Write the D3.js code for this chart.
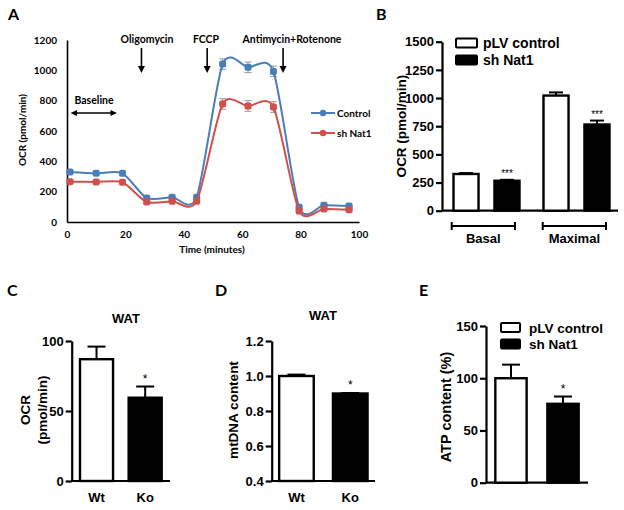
<!DOCTYPE html>
<html><head><meta charset="utf-8">
<script src="https://cdn.jsdelivr.net/npm/d3@7"></script>
<style>body{margin:0;background:#fff}svg{display:block}</style>
</head><body>
<svg id="c" width="624" height="510"></svg>
<script>
// ---------- Panel A data ----------
const timeA = [1, 10, 19, 27.3, 36, 44.4, 53.3, 62, 70.7, 79.5, 88, 96.6];
const controlA = [330, 321, 321, 158, 163, 163, 1041, 1020, 993, 97, 110, 105];
const shNat1A = [266, 264, 262, 132, 136, 136, 778, 765, 758, 72, 86, 81];
const controlErrA = [12, 10, 10, 8, 8, 8, 35, 35, 35, 8, 8, 8];
const shNat1ErrA = [10, 10, 10, 8, 8, 8, 35, 35, 35, 8, 8, 8];
const yTicksA = [0, 200, 400, 600, 800, 1000, 1200];
const xTicksA = [0, 20, 40, 60, 80, 100];
const injections = [
  {label: "Oligomycin", t: 25.5},
  {label: "FCCP", t: 48},
  {label: "Antimycin+Rotenone", t: 74}
];
const seriesA = ["Control", "sh Nat1"];

// ---------- Panel B data ----------
const groupsB = ["Basal", "Maximal"];
const pLVB = [326, 1022];
const shB = [266, 765];
const pLVErrB = [8, 28];
const shErrB = [8, 35];
const sigB = ["***", "***"];
const yTicksB = [0, 250, 500, 750, 1000, 1250, 1500];
const legendB = ["pLV control", "sh Nat1"];

// ---------- Panel C data ----------
const catsC = ["Wt", "Ko"];
const valsC = [87, 59.5];
const errC = [9, 8];
const sigC = ["", "*"];
const yTicksC = [0, 50, 100];

// ---------- Panel D data ----------
const catsD = ["Wt", "Ko"];
const valsD = [1.0, 0.9];
const errD = [0.008, 0.003];
const sigD = ["", "*"];
const yTicksD = [0.4, 0.6, 0.8, 1.0, 1.2];

// ---------- Panel E data ----------
const catsE = ["pLV control", "sh Nat1"];
const valsE = [100, 75.5];
const errE = [13, 7];
const sigE = ["", "*"];
const yTicksE = [0, 50, 100, 150];

const svg = d3.select("#c");
const ARIAL = "'Liberation Sans', Arial, sans-serif";
const CAL = "Lato, 'Open Sans', sans-serif";

function panelLabel(t, x, y) {
  svg.append("text").attr("x", x).attr("y", y).text(t)
    .attr("font-family", CAL).attr("font-weight", "bold").attr("font-size", 16).attr("fill", "#000");
}

// ================= Panel A =================
(function () {
  const x = d3.scaleLinear().domain([0, 100]).range([67, 359]);
  const y = d3.scaleLinear().domain([0, 1200]).range([222, 40]);
  const g = svg.append("g");
  const ax = g.append("g").attr("transform", "translate(0,222)")
    .call(d3.axisBottom(x).tickValues(xTicksA).tickSize(0).tickPadding(9).tickFormat(d3.format("d")));
  const ay = g.append("g").attr("transform", "translate(67,0)")
    .call(d3.axisLeft(y).tickValues(yTicksA).tickSize(0).tickPadding(10).tickFormat(d3.format("d")));
  [ax, ay].forEach(a => {
    a.select(".domain").attr("stroke", "#000").attr("stroke-width", 1.6);
    a.selectAll("text").attr("font-family", CAL).attr("font-weight", "bold").attr("font-size", 10).attr("fill", "#000");
  });
  g.append("text").attr("x", 212).attr("y", 253).attr("text-anchor", "middle").text("Time (minutes)")
    .attr("font-family", CAL).attr("font-weight", "bold").attr("font-size", 10);
  g.append("text").attr("transform", "translate(26,130) rotate(-90)").attr("text-anchor", "middle").text("OCR (pmol/min)")
    .attr("font-family", CAL).attr("font-weight", "bold").attr("font-size", 10);

  const colors = ["#4a7ebb", "#d0504d"];
  const sets = [[controlA, controlErrA], [shNat1A, shNat1ErrA]];
  const line = d3.line().x(d => x(d[0])).y(d => y(d[1])).curve(d3.curveCardinal.tension(0.25));
  sets.forEach(([vals, errs], k) => {
    const pts = timeA.map((t, i) => [t, vals[i], errs[i]]);
    pts.forEach(p => {
      const cx = x(p[0]);
      g.append("line").attr("x1", cx).attr("x2", cx).attr("y1", y(p[1] - p[2])).attr("y2", y(p[1] + p[2]))
        .attr("stroke", "#999").attr("stroke-width", 1);
      [p[1] - p[2], p[1] + p[2]].forEach(v => g.append("line").attr("x1", cx - 3.5).attr("x2", cx + 3.5)
        .attr("y1", y(v)).attr("y2", y(v)).attr("stroke", "#999").attr("stroke-width", 1));
    });
    g.append("path").datum(pts).attr("d", line).attr("fill", "none").attr("stroke", colors[k]).attr("stroke-width", 2);
    g.selectAll(null).data(pts).enter().append("rect")
      .attr("x", d => x(d[0]) - 3.5).attr("y", d => y(d[1]) - 3.5).attr("width", 7).attr("height", 7).attr("rx", 2)
      .attr("fill", colors[k]);
  });
  // legend
  seriesA.forEach((s, k) => {
    const ly = 113 + k * 20;
    g.append("line").attr("x1", 311).attr("x2", 335).attr("y1", ly).attr("y2", ly).attr("stroke", colors[k]).attr("stroke-width", 2);
    g.append("circle").attr("cx", 323).attr("cy", ly).attr("r", 3.2).attr("fill", colors[k]);
    g.append("text").attr("x", 337).attr("y", ly + 3.5).text(s)
      .attr("font-family", CAL).attr("font-weight", "bold").attr("font-size", 10);
  });
  // injections
  const arrowHead = (xx, yy) => g.append("path").attr("d", `M${xx - 3.5},${yy - 7}L${xx + 3.5},${yy - 7}L${xx},${yy}Z`).attr("fill", "#000");
  injections.forEach(inj => {
    const ix = x(inj.t);
    g.append("line").attr("x1", ix).attr("x2", ix).attr("y1", 48).attr("y2", 67).attr("stroke", "#000").attr("stroke-width", 1.6);
    arrowHead(ix, 73);
  });
  const labX = [147, 206, 292];
  injections.forEach((inj, i) => g.append("text").attr("x", labX[i]).attr("y", 43).attr("text-anchor", "middle").text(inj.label)
    .attr("font-family", CAL).attr("font-weight", "bold").attr("font-size", 10.5));
  // baseline
  g.append("text").attr("x", 94).attr("y", 104).attr("text-anchor", "middle").text("Baseline")
    .attr("font-family", CAL).attr("font-weight", "bold").attr("font-size", 10.5);
  g.append("line").attr("x1", 75).attr("x2", 112).attr("y1", 113).attr("y2", 113).attr("stroke", "#000").attr("stroke-width", 1.3);
  g.append("path").attr("d", "M70.5,113L77,110L77,116Z M117,113L110.5,110L110.5,116Z").attr("fill", "#000");
})();

// ================= generic bar helper =================
function drawAxisY(g, y, x0, ticks, fmt) {
  const a = g.append("g").attr("transform", `translate(${x0},0)`)
    .call(d3.axisLeft(y).tickValues(ticks).tickSize(6).tickSizeOuter(0).tickPadding(2).tickFormat(fmt || d3.format("d")));
  a.select(".domain").attr("stroke", "#000").attr("stroke-width", 2.2);
  a.selectAll(".tick line").attr("stroke", "#000").attr("stroke-width", 2.2);
  a.selectAll("text").attr("font-family", ARIAL).attr("font-weight", "bold").attr("font-size", 13).attr("fill", "#000");
  return a;
}
function bar(g, x0, x1, yTop, yBase, fill) {
  g.append("rect").attr("x", x0 + 1).attr("y", yTop).attr("width", x1 - x0 - 2).attr("height", yBase - yTop)
    .attr("fill", fill).attr("stroke", "#000").attr("stroke-width", 2.4);
}
function errBar(g, cx, yTop, yV, w) {
  g.append("line").attr("x1", cx).attr("x2", cx).attr("y1", yTop).attr("y2", yV).attr("stroke", "#000").attr("stroke-width", 2);
  g.append("line").attr("x1", cx - w).attr("x2", cx + w).attr("y1", yTop).attr("y2", yTop).attr("stroke", "#000").attr("stroke-width", 2);
}
function star(g, cx, yy, t, size) {
  if (!t) return;
  g.append("text").attr("x", cx).attr("y", yy).attr("text-anchor", "middle").text(t)
    .attr("font-family", ARIAL).attr("font-size", size || 11).attr("fill", "#000");
}

// ================= Panel B =================
(function () {
  const g = svg.append("g");
  const y = d3.scaleLinear().domain([0, 1500]).range([210.7, 41.7]);
  drawAxisY(g, y, 442, yTicksB);
  g.append("line").attr("x1", 442).attr("x2", 618).attr("y1", 210.7).attr("y2", 210.7).attr("stroke", "#000").attr("stroke-width", 2.2);
  groupsB.forEach((grp, i) => {
    const base = [452.5, 542.5][i];
    const xx = d3.scaleBand().domain(legendB).range([base, base + 68]).paddingInner(0.34);
    [[pLVB, pLVErrB, "#fff"], [shB, shErrB, "#000"]].forEach(([vals, errs, fill], k) => {
      const x0 = xx(legendB[k]), x1 = x0 + xx.bandwidth();
      const cx = (x0 + x1) / 2;
      errBar(g, cx, y(vals[i] + errs[i]), y(vals[i]), 7);
      bar(g, x0, x1, y(vals[i]), y(0), fill);
      if (k === 1) star(g, cx, y(vals[i] + errs[i]) - 3, sigB[i], 10);
    });
    // bracket
    const bx0 = [451.7, 542.7][i], bx1 = [515, 606][i];
    g.append("line").attr("x1", bx0).attr("x2", bx1).attr("y1", 226).attr("y2", 226).attr("stroke", "#000").attr("stroke-width", 2);
    [bx0, bx1].forEach(b => g.append("line").attr("x1", b).attr("x2", b).attr("y1", 222).attr("y2", 230).attr("stroke", "#000").attr("stroke-width", 2));
    g.append("text").attr("x", (bx0 + bx1) / 2).attr("y", 243).attr("text-anchor", "middle").text(grp)
      .attr("font-family", ARIAL).attr("font-weight", "bold").attr("font-size", 13);
  });
  g.append("text").attr("transform", "translate(406,126) rotate(-90)").attr("text-anchor", "middle").text("OCR (pmol/min)")
    .attr("font-family", ARIAL).attr("font-weight", "bold").attr("font-size", 13.5);
  legendB.forEach((s, k) => {
    const ly = 43 + k * 17;
    g.append("rect").attr("x", 456).attr("y", ly - 4.5).attr("width", 21).attr("height", 9).attr("rx", 1)
      .attr("fill", k ? "#000" : "#fff").attr("stroke", "#000").attr("stroke-width", 2);
    g.append("text").attr("x", 483).attr("y", ly + 5).text(s)
      .attr("font-family", ARIAL).attr("font-weight", "bold").attr("font-size", 14);
  });
})();

// ================= Panels C, D, E =================
function simpleBars(opt) {
  const g = svg.append("g");
  const y = d3.scaleLinear().domain(opt.domain).range([opt.y0, opt.y1]);
  const x = d3.scaleBand().domain(opt.cats).range([opt.xa, opt.xe]).paddingInner(opt.pi).paddingOuter(opt.po);
  drawAxisY(g, y, opt.xa, opt.ticks, opt.fmt);
  g.append("line").attr("x1", opt.xa).attr("x2", opt.xe).attr("y1", opt.y0).attr("y2", opt.y0).attr("stroke", "#000").attr("stroke-width", 2.2);
  opt.cats.forEach((c, i) => {
    const x0 = x(c), x1 = x0 + x.bandwidth(), cx = (x0 + x1) / 2;
    errBar(g, cx, y(opt.vals[i] + opt.errs[i]), y(opt.vals[i]), 9);
    bar(g, x0, x1, y(opt.vals[i]), opt.y0, i ? "#000" : "#fff");
    star(g, cx, y(opt.vals[i] + opt.errs[i]) - 4, opt.sig[i], 12);
    if (opt.showCats) g.append("text").attr("x", cx).attr("y", opt.y0 + 21).attr("text-anchor", "middle").text(c)
      .attr("font-family", ARIAL).attr("font-weight", "bold").attr("font-size", 13);
  });
  if (opt.title) g.append("text").attr("x", opt.titleX).attr("y", opt.titleY).attr("text-anchor", "middle").text(opt.title)
    .attr("font-family", ARIAL).attr("font-weight", "bold").attr("font-size", 13);
  opt.ylabel.forEach((l, k) => {
    g.append("text").attr("transform", `translate(${opt.ylx + k * 17},${opt.yly}) rotate(-90)`).attr("text-anchor", "middle").text(l)
      .attr("font-family", ARIAL).attr("font-weight", "bold").attr("font-size", opt.ylSize || 13.5);
  });
  return g;
}

simpleBars({cats: catsC, vals: valsC, errs: errC, sig: sigC, ticks: yTicksC, domain: [0, 100],
  y0: 481, y1: 341, xa: 71.7, xe: 170, pi: 0.28, po: 0.15, showCats: true,
  title: "WAT", titleX: 126, titleY: 323, ylabel: ["OCR", "(pmol/min)"], ylx: 30, yly: 410});

simpleBars({cats: catsD, vals: valsD, errs: errD, sig: sigD, ticks: yTicksD, domain: [0.4, 1.2], fmt: d3.format(".1f"),
  y0: 481, y1: 341, xa: 271.7, xe: 375, pi: 0.32, po: 0.12, showCats: true,
  title: "WAT", titleX: 323, titleY: 320, ylabel: ["mtDNA content"], ylx: 238, yly: 410});

const gE = simpleBars({cats: catsE, vals: valsE, errs: errE, sig: sigE, ticks: yTicksE, domain: [0, 150],
  y0: 482.7, y1: 326, xa: 486, xe: 588, pi: 0.36, po: 0.16, showCats: false,
  ylabel: ["ATP content (%)"], ylx: 451, yly: 407, ylSize: 14.5});
catsE.forEach((s, k) => {
  const ly = 327.5 + k * 16.5;
  gE.append("rect").attr("x", 501).attr("y", ly - 4.5).attr("width", 19).attr("height", 9).attr("rx", 1)
    .attr("fill", k ? "#000" : "#fff").attr("stroke", "#000").attr("stroke-width", 2);
  gE.append("text").attr("x", 529).attr("y", ly + 5).text(s)
    .attr("font-family", ARIAL).attr("font-weight", "bold").attr("font-size", 13.5);
});

panelLabel("A", 8, 20);
panelLabel("B", 376, 20);
panelLabel("C", 7, 296);
panelLabel("D", 215, 296);
panelLabel("E", 419, 296);
</script>
</body></html>
